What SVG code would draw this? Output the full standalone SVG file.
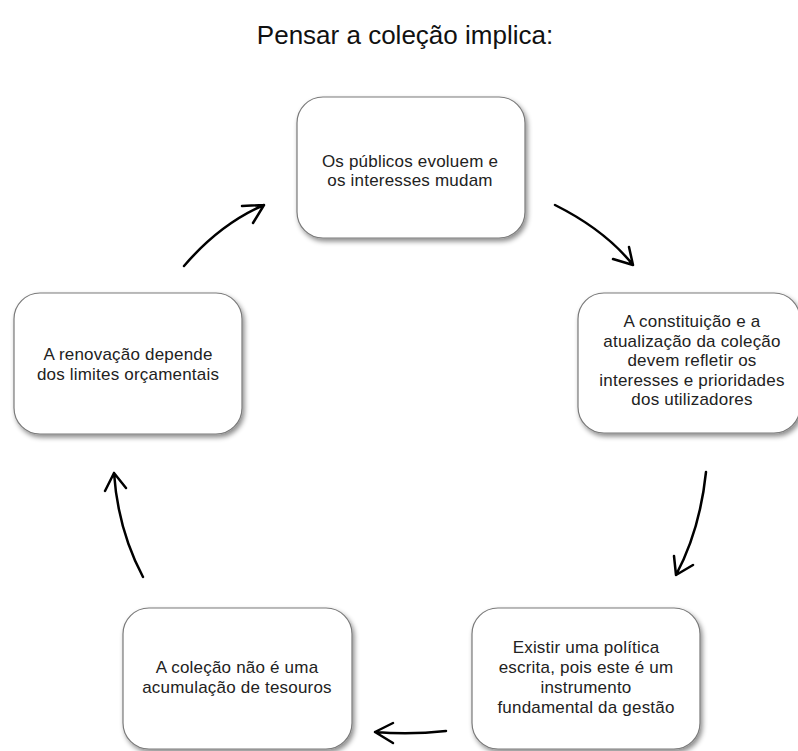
<svg xmlns="http://www.w3.org/2000/svg" width="798" height="751" viewBox="0 0 798 751">
<defs>
<filter id="sh" x="-10%" y="-10%" width="125%" height="130%">
<feDropShadow dx="2" dy="3" stdDeviation="2.5" flood-color="#000" flood-opacity="0.45"/>
</filter>
</defs>
<style>
.box{fill:#fff;stroke:#7a7a7a;stroke-width:1.2;filter:url(#sh)}
.t{font-family:"Liberation Sans",Arial,sans-serif;font-size:17px;letter-spacing:0.2px;fill:#222;text-anchor:middle}
.title{font-family:"Liberation Sans",Arial,sans-serif;font-size:26px;fill:#111;text-anchor:middle}
.arr{fill:none;stroke:#000;stroke-width:2.5;stroke-linecap:round;stroke-linejoin:round}
</style>
<rect width="798" height="751" fill="#fff"/>
<text class="title" x="405" y="44">Pensar a coleção implica:</text>
<g id="n1">
<rect class="box" x="297" y="97" width="228" height="141" rx="26"/>
<text class="t" x="410" y="167">Os públicos evoluem e</text>
<text class="t" x="410" y="186">os interesses mudam</text>
</g>
<g id="n2">
<rect class="box" x="578" y="293" width="222" height="140" rx="26"/>
<text class="t" x="692" y="327">A constituição e a</text>
<text class="t" x="692" y="346.5">atualização da coleção</text>
<text class="t" x="692" y="366">devem refletir os</text>
<text class="t" x="692" y="385.5">interesses e prioridades</text>
<text class="t" x="692" y="405">dos utilizadores</text>
</g>
<g id="n3">
<rect class="box" x="14" y="293" width="228" height="141" rx="26"/>
<text class="t" x="128" y="360">A renovação depende</text>
<text class="t" x="128" y="380">dos limites orçamentais</text>
</g>
<g id="n4">
<rect class="box" x="123" y="608" width="229" height="141" rx="26"/>
<text class="t" x="237" y="673">A coleção não é uma</text>
<text class="t" x="237" y="693">acumulação de tesouros</text>
</g>
<g id="n5">
<rect class="box" x="472" y="608" width="228" height="141" rx="26"/>
<text class="t" x="586" y="653">Existir uma política</text>
<text class="t" x="586" y="673">escrita, pois este é um</text>
<text class="t" x="586" y="693">instrumento</text>
<text class="t" x="586" y="713">fundamental da gestão</text>
</g>
<g id="connectors">
<path class="arr" d="M184,266 Q220,224 264,205 M242,206 L264,205 L253,223"/>
<path class="arr" d="M555,205 Q605,230 633,265 M613,259 L633,265 L629,247"/>
<path class="arr" d="M706,472 Q700,530 676,575 M674,556 L676,575 L693,565"/>
<path class="arr" d="M446,731 Q410,735 375,732 M393,723 L375,732 L393,743"/>
<path class="arr" d="M143,577 Q118,530 114,473 M105,491 L114,473 L126,488"/>
</g>
</svg>
